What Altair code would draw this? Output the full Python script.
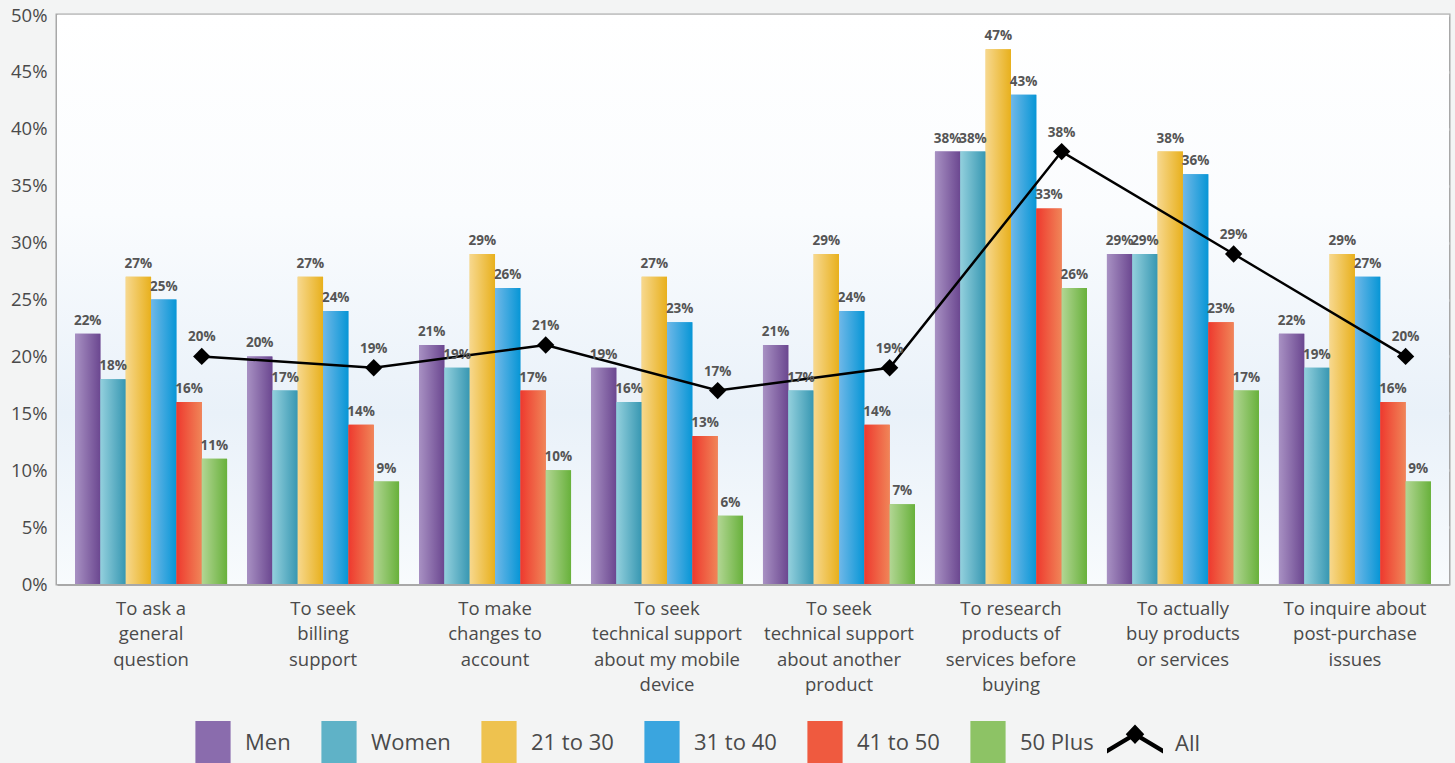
import altair as alt
import pandas as pd

categories = [
    "To ask a\ngeneral\nquestion",
    "To seek\nbilling\nsupport",
    "To make\nchanges to\naccount",
    "To seek\ntechnical support\nabout my mobile\ndevice",
    "To seek\ntechnical support\nabout another\nproduct",
    "To research\nproducts of\nservices before\nbuying",
    "To actually\nbuy products\nor services",
    "To inquire about\npost-purchase\nissues",
]
series = ["Men", "Women", "21 to 30", "31 to 40", "41 to 50", "50 Plus"]
men = [22, 20, 21, 19, 21, 38, 29, 22]
women = [18, 17, 19, 16, 17, 38, 29, 19]
age_21_30 = [27, 27, 29, 27, 29, 47, 38, 29]
age_31_40 = [25, 24, 26, 23, 24, 43, 36, 27]
age_41_50 = [16, 14, 17, 13, 14, 33, 23, 16]
age_50_plus = [11, 9, 10, 6, 7, 26, 17, 9]
all_values = [20, 19, 21, 17, 19, 38, 29, 20]
y_ticks = [0, 5, 10, 15, 20, 25, 30, 35, 40, 45, 50]

solid_colors = ["#8a6cad", "#5fb2c7", "#eec24f", "#3aa5df", "#ef5a3f", "#8dc365"]
grad_stops = [
    ("#a891c3", "#6b4790"),
    ("#93d0dd", "#3797b2"),
    ("#f7d88e", "#e8b01c"),
    ("#70b8e8", "#0796d6"),
    ("#ee392e", "#f08558"),
    ("#b2d694", "#68b13b"),
]

values_by_series = [men, women, age_21_30, age_31_40, age_41_50, age_50_plus]
rows = []
for s, vals in zip(series, values_by_series):
    for c, v in zip(categories, vals):
        rows.append({"cat": c, "series": s, "value": v, "label": f"{v}%"})
bars_df = pd.DataFrame(rows)
all_df = pd.DataFrame({"cat": categories, "value": all_values,
                       "label": [f"{v}%" for v in all_values],
                       "name": ["All"] * len(categories)})

W, H = 1392, 569
FONT = "Open Sans"

x_enc = alt.X("cat:N", sort=categories,
              scale=alt.Scale(paddingInner=0.116, paddingOuter=0.105),
              axis=alt.Axis(title=None, labelExpr="split(datum.label, '\\n')",
                            labelAngle=0, labelFontSize=18.5, labelColor="#4a4a4a",
                            labelFont=FONT, labelPadding=15, labelLineHeight=25.5,
                            ticks=False, domainColor="#a8a8a8", domainWidth=3,
                            labelBaseline="top"))
y_enc = alt.Y("value:Q", scale=alt.Scale(domain=[0, 50], nice=False),
              axis=alt.Axis(title=None, values=y_ticks, labelExpr="datum.value + '%'",
                            labelFontSize=18.5, labelColor="#4a4a4a", labelFont=FONT,
                            labelPadding=10, ticks=False, domainColor="#a8a8a8",
                            domainWidth=3, gridColor="#d0d0d0", gridWidth=2.5))
xoff = alt.XOffset("series:N", scale=alt.Scale(domain=series, paddingInner=0, paddingOuter=0))

bg = alt.Chart(alt.Data(values=[{}])).mark_rect(
    color=alt.LinearGradient(gradient="linear", x1=0, y1=0, x2=0, y2=1,
                             stops=[alt.GradientStop(offset=0, color="#ffffff"),
                                    alt.GradientStop(offset=0.35, color="#fafcfe"),
                                    alt.GradientStop(offset=0.7, color="#e9f1f9"),
                                    alt.GradientStop(offset=1, color="#f8fbfd")])
).encode(x=alt.value(0), x2=alt.value(W), y=alt.value(0), y2=alt.value(H))

solid = alt.Chart(bars_df).mark_bar().encode(
    x=x_enc, y=y_enc, xOffset=xoff,
    color=alt.Color("series:N", scale=alt.Scale(domain=series, range=solid_colors),
                    legend=alt.Legend(title=None, orient="none", direction="horizontal",
                                      columns=6, legendX=134, legendY=706,
                                      symbolType="M-0.8,-1L0.8,-1L0.8,1L-0.8,1Z",
                                      symbolSize=1936, symbolStrokeWidth=0,
                                      labelFontSize=22, labelColor="#4a4a4a",
                                      labelFont=FONT, labelOffset=10,
                                      columnPadding=26)),
)

grad_layers = []
for s, (c1, c2) in zip(series, grad_stops):
    grad_layers.append(
        alt.Chart(bars_df).transform_filter(alt.datum.series == s).mark_bar(
            color=alt.LinearGradient(gradient="linear", x1=0, y1=0, x2=1, y2=0,
                                     stops=[alt.GradientStop(offset=0, color=c1),
                                            alt.GradientStop(offset=1, color=c2)])
        ).encode(x=x_enc, y=y_enc, xOffset=xoff)
    )

bar_labels = alt.Chart(bars_df).mark_text(
    baseline="bottom", dy=-6, fontSize=13.5, fontWeight="bold", color="#555555", font=FONT
).encode(x=x_enc, y=y_enc, xOffset=xoff, text="label:N")

x_line = alt.X("cat:N", sort=categories, bandPosition=5 / 6)
chevron = ("M-1,0.16L0,-0.44L1,0.16L1,0.34L0,-0.26L-1,0.34Z"
           "M0,-0.7L0.33,-0.35L0,0L-0.33,-0.35Z")
line = alt.Chart(all_df).mark_line(strokeWidth=2.5).encode(
    x=x_line, y="value:Q",
    stroke=alt.Stroke("name:N", scale=alt.Scale(domain=["All"], range=["black"]),
                      legend=alt.Legend(title=None, orient="none", legendX=1050, legendY=701,
                                        symbolType=chevron, symbolSize=3136,
                                        symbolFillColor="black", symbolStrokeWidth=0,
                                        labelFontSize=22, labelColor="#4a4a4a",
                                        labelFont=FONT, labelOffset=12)),
)
points = alt.Chart(all_df).mark_point(shape="diamond", filled=True, size=300, color="black",
                                      opacity=1).encode(x=x_line, y="value:Q")
all_labels = alt.Chart(all_df).mark_text(
    baseline="bottom", dy=-12, fontSize=13.5, fontWeight="bold", color="#555555", font=FONT
).encode(x=x_line, y="value:Q", text="label:N")

chart = alt.layer(bg, solid, *grad_layers, line, points, bar_labels, all_labels).properties(
    width=W, height=H,
    autosize=alt.AutoSizeParams(type="none"),
    padding={"left": 57, "top": 15, "right": 6, "bottom": 179},
    background="#f3f4f4",
).configure_view(stroke="#a8a8a8", strokeWidth=3)

chart.save("out.html", embed_options={"renderer": "svg", "actions": False})
